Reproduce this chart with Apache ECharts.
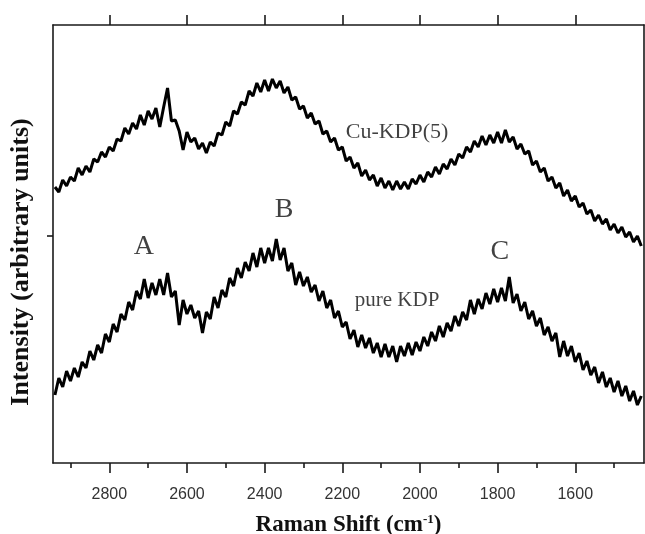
<!DOCTYPE html>
<html>
<head>
<meta charset="utf-8">
<script src="https://cdn.jsdelivr.net/npm/echarts@6/dist/echarts.min.js"></script>
<style>
html,body{margin:0;padding:0;background:#fff;}
#chart{width:645px;height:534px;}
</style>
</head>
<body>
<div id="chart"></div>
<script>
// Raman shift sampling (cm^-1)
const wavenumbers = [2940,2930,2920,2910,2900,2890,2880,2870,2860,2850,2840,2830,2820,2810,2800,2790,2780,2770,2760,2750,2740,2730,2720,2710,2700,2690,2680,2670,2660,2650,2640,2630,2620,2610,2600,2590,2580,2570,2560,2550,2540,2530,2520,2510,2500,2490,2480,2470,2460,2450,2440,2430,2420,2410,2400,2390,2380,2370,2360,2350,2340,2330,2320,2310,2300,2290,2280,2270,2260,2250,2240,2230,2220,2210,2200,2190,2180,2170,2160,2150,2140,2130,2120,2110,2100,2090,2080,2070,2060,2050,2040,2030,2020,2010,2000,1990,1980,1970,1960,1950,1940,1930,1920,1910,1900,1890,1880,1870,1860,1850,1840,1830,1820,1810,1800,1790,1780,1770,1760,1750,1740,1730,1720,1710,1700,1690,1680,1670,1660,1650,1640,1630,1620,1610,1600,1590,1580,1570,1560,1550,1540,1530,1520,1510,1500,1490,1480,1470,1460,1450,1440,1430];
// Cu-KDP(5) intensity (arbitrary units)
const cuKDP = [276,271,283,277,286,282,295,288,297,291,304,301,311,306,316,312,324,322,335,329,340,334,348,338,352,344,355,336,356,375,342,343,332,313,331,321,325,314,320,310,321,317,330,328,341,337,352,349,361,358,372,367,380,371,383,372,384,375,382,370,376,363,366,354,357,345,350,339,342,329,332,321,325,313,316,302,306,295,300,287,293,283,288,277,285,275,282,273,282,274,281,274,284,279,288,281,291,286,296,289,299,294,304,298,309,305,316,311,322,316,327,318,328,320,331,320,333,321,326,314,319,309,312,298,302,291,295,282,286,275,280,267,273,262,267,256,260,249,253,242,248,239,244,233,239,230,236,226,231,221,227,217];
// pure KDP intensity (arbitrary units)
const pureKDP = [68,85,76,92,82,95,86,101,95,112,103,118,110,129,121,139,131,149,143,161,153,172,164,184,165,180,168,184,168,190,166,172,138,163,149,158,145,152,130,151,144,166,155,173,166,185,177,195,185,201,192,210,196,215,200,215,202,224,203,215,192,200,178,191,177,186,171,178,162,172,155,163,145,152,136,141,124,133,116,128,115,125,110,120,106,119,106,117,101,117,107,120,108,121,112,126,117,131,122,137,126,140,132,147,137,151,143,163,149,164,154,170,159,174,161,175,162,186,160,169,152,161,144,152,137,145,128,136,122,130,106,122,107,117,101,110,93,102,88,96,80,91,76,85,71,82,67,77,62,72,58,67];
// axis ticks
const majorTicks = [2800,2600,2400,2200,2000,1800,1600];
const minorTicks = [2900,2700,2500,2300,2100,1900,1700,1500];
const yTicks = [227];
// annotations
const annoText = ['Cu-KDP(5)','pure KDP','A','B','C'];
const annoX = [2059,2059,2711,2350,1794];
const annoY = [331,163,216,253,211];
const annoSize = [22,21,28,28,28];

const xMin = 1423, xMax = 2945, yMin = 0, yMax = 438;
const serif = '"Liberation Serif", "Times New Roman", serif';

const chart = echarts.init(document.getElementById('chart'), null, {renderer:'canvas'});
const axisLineStyle = {color:'#1a1a1a', width:1.6};

const option = {
  animation:false,
  backgroundColor:'#fff',
  grid:{left:53, right:1, top:25, bottom:71, containLabel:false, outerBoundsMode:'none'},
  xAxis:[
    {type:'value', inverse:true, min:xMin, max:xMax, position:'bottom',
     axisLine:{show:true, onZero:false, lineStyle:axisLineStyle},
     axisTick:{show:true, length:10, customValues:majorTicks, lineStyle:{color:'#1a1a1a', width:1.6}},
     axisLabel:{show:true, customValues:majorTicks, margin:24, fontSize:16, color:'#333',
                fontFamily:'"Liberation Sans", Arial, sans-serif', formatter:(v)=>String(v)},
     splitLine:{show:false},
     name:'{a|Raman Shift (cm}{b|-1}{a|)}', nameLocation:'middle', nameGap:50,
     nameTextStyle:{rich:{
       a:{fontFamily:serif, fontWeight:'bold', fontSize:23, color:'#111'},
       b:{fontFamily:serif, fontWeight:'bold', fontSize:13, color:'#111', verticalAlign:'top', padding:[0,0,12,0]}
     }}},
    {type:'value', inverse:true, min:xMin, max:xMax, position:'bottom',
     axisLine:{show:false, onZero:false},
     axisTick:{show:true, length:5, customValues:minorTicks, lineStyle:{color:'#1a1a1a', width:1.6}},
     axisLabel:{show:false}, splitLine:{show:false}},
    {type:'value', inverse:true, min:xMin, max:xMax, position:'top',
     axisLine:{show:true, onZero:false, lineStyle:axisLineStyle},
     axisTick:{show:true, length:10, customValues:majorTicks, lineStyle:{color:'#1a1a1a', width:1.6}},
     axisLabel:{show:false}, splitLine:{show:false}}
  ],
  yAxis:[
    {type:'value', min:yMin, max:yMax, position:'left',
     axisLine:{show:true, onZero:false, lineStyle:axisLineStyle},
     axisTick:{show:true, length:6, customValues:yTicks, lineStyle:{color:'#1a1a1a', width:1.6}},
     axisLabel:{show:false}, splitLine:{show:false}},
    {type:'value', min:yMin, max:yMax, position:'right',
     axisLine:{show:true, onZero:false, lineStyle:axisLineStyle},
     axisTick:{show:false}, axisLabel:{show:false}, splitLine:{show:false}}
  ],
  graphic:[
    {type:'text', x:21, y:262, rotation:Math.PI/2,
     style:{text:'Intensity (arbitrary units)', align:'center', verticalAlign:'middle',
            font:'bold 26px ' + serif, fill:'#111'}}
  ],
  series:[
    {name:'Cu-KDP(5)', type:'line', xAxisIndex:0, yAxisIndex:0, showSymbol:false,
     lineStyle:{color:'#000', width:3}, data:wavenumbers.map((w,i)=>[w,cuKDP[i]])},
    {name:'pure KDP', type:'line', xAxisIndex:0, yAxisIndex:0, showSymbol:false,
     lineStyle:{color:'#000', width:3}, data:wavenumbers.map((w,i)=>[w,pureKDP[i]])},
    {name:'labels', type:'scatter', xAxisIndex:0, yAxisIndex:0, symbolSize:0, silent:true,
     data:annoText.map((t,i)=>({name:t, value:[annoX[i],annoY[i]],
       label:{show:true, position:'inside', formatter:t, fontFamily:serif, fontSize:annoSize[i], color:'#111'}}))}
  ]
};
chart.setOption(option);
</script>
</body>
</html>
